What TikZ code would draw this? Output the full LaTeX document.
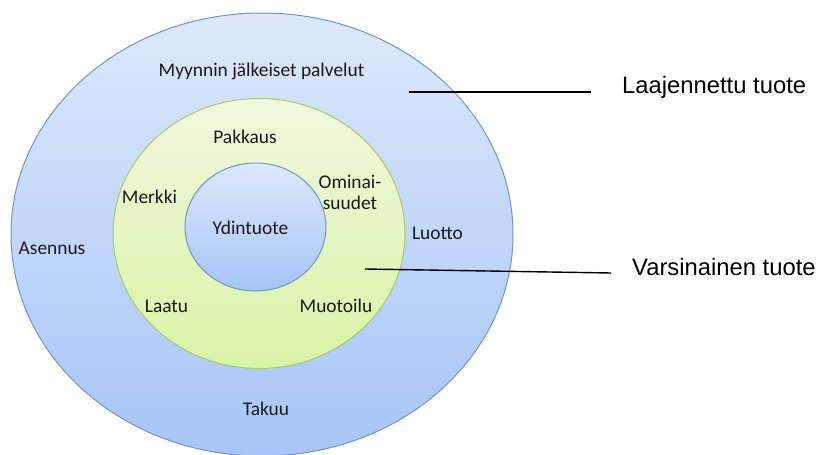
\documentclass[tikz,border=0pt]{standalone}
\usepackage{fontspec}
\setmainfont{Carlito}
\newfontfamily\arialfont{Liberation Sans}
\usepackage{tikz}
\usetikzlibrary{shapes.geometric}

\definecolor{ringline}{HTML}{7394C8}
\definecolor{bluetop}{HTML}{DDE8FB}
\definecolor{bluebot}{HTML}{A7C5F8}
\definecolor{greenline}{HTML}{A9C86E}
\definecolor{greentop}{HTML}{F1F8DE}
\definecolor{greenbot}{HTML}{D8F4A6}

\tikzset{
  ring/.style={draw=ringline, line width=1pt, ellipse, inner sep=0pt,
    top color=bluetop, bottom color=bluebot},
  greenring/.style={ring, draw=greenline, top color=greentop, bottom color=greenbot},
  lbl/.style={inner sep=0pt, anchor=base, text=black!90,
    font=\fontsize{19.4}{21}\selectfont},
  side/.style={inner sep=0pt, anchor=base west,
    font=\arialfont\fontsize{23.8}{26}\selectfont},
  pointer/.style={line width=1.4pt, black}
}

\begin{document}
\begin{tikzpicture}[x=1pt, y=-1pt]
      \useasboundingbox (0,0) rectangle (820,455);

      % Draw the three rings, outer to inner
      \node[ring, minimum width=502pt, minimum height=443pt] (outer) at (262,234.5) {};
      \node[greenring, minimum width=292pt, minimum height=270pt] (middle) at (259,233.5) {};
      \node[ring, minimum width=141pt, minimum height=128pt] (core) at (255.5,227) {};

      % Labels in the outer ring
      \node[lbl] (myynti) at (261.5,76) {Myynnin jälkeiset palvelut};
      \node[lbl] (asennus) at (52,254.3) {Asennus};
      \node[lbl] (luotto) at (437.5,239) {Luotto};
      \node[lbl] (takuu) at (266,415) {Takuu};

      % Labels in the middle ring
      \node[lbl] (pakkaus) at (245,143) {Pakkaus};
      \node[lbl] (merkki) at (149.5,203) {Merkki};
      \node[lbl, anchor=center, align=center] (ominai) at (350,192) {Ominai-\\suudet};
      \node[lbl] (laatu) at (166.5,312) {Laatu};
      \node[lbl] (muotoilu) at (336,312) {Muotoilu};

      % Core label
      \node[lbl] (ydin) at (250.5,234) {Ydintuote};

      % Side texts with their pointer lines
      \node[side] (laajennettu) at (622,93.5) {Laajennettu tuote};
      \node[side] (varsinainen) at (632,275) {Varsinainen tuote};
      \coordinate (laajA) at (409,92);
      \coordinate (laajB) at (591,92);
      \coordinate (varsA) at (365,269);
      \coordinate (varsB) at (611,273);
      \draw[pointer] (laajA) -- (laajB);
      \draw[pointer] (varsA) -- (varsB);
    \end{tikzpicture}
\end{document}
